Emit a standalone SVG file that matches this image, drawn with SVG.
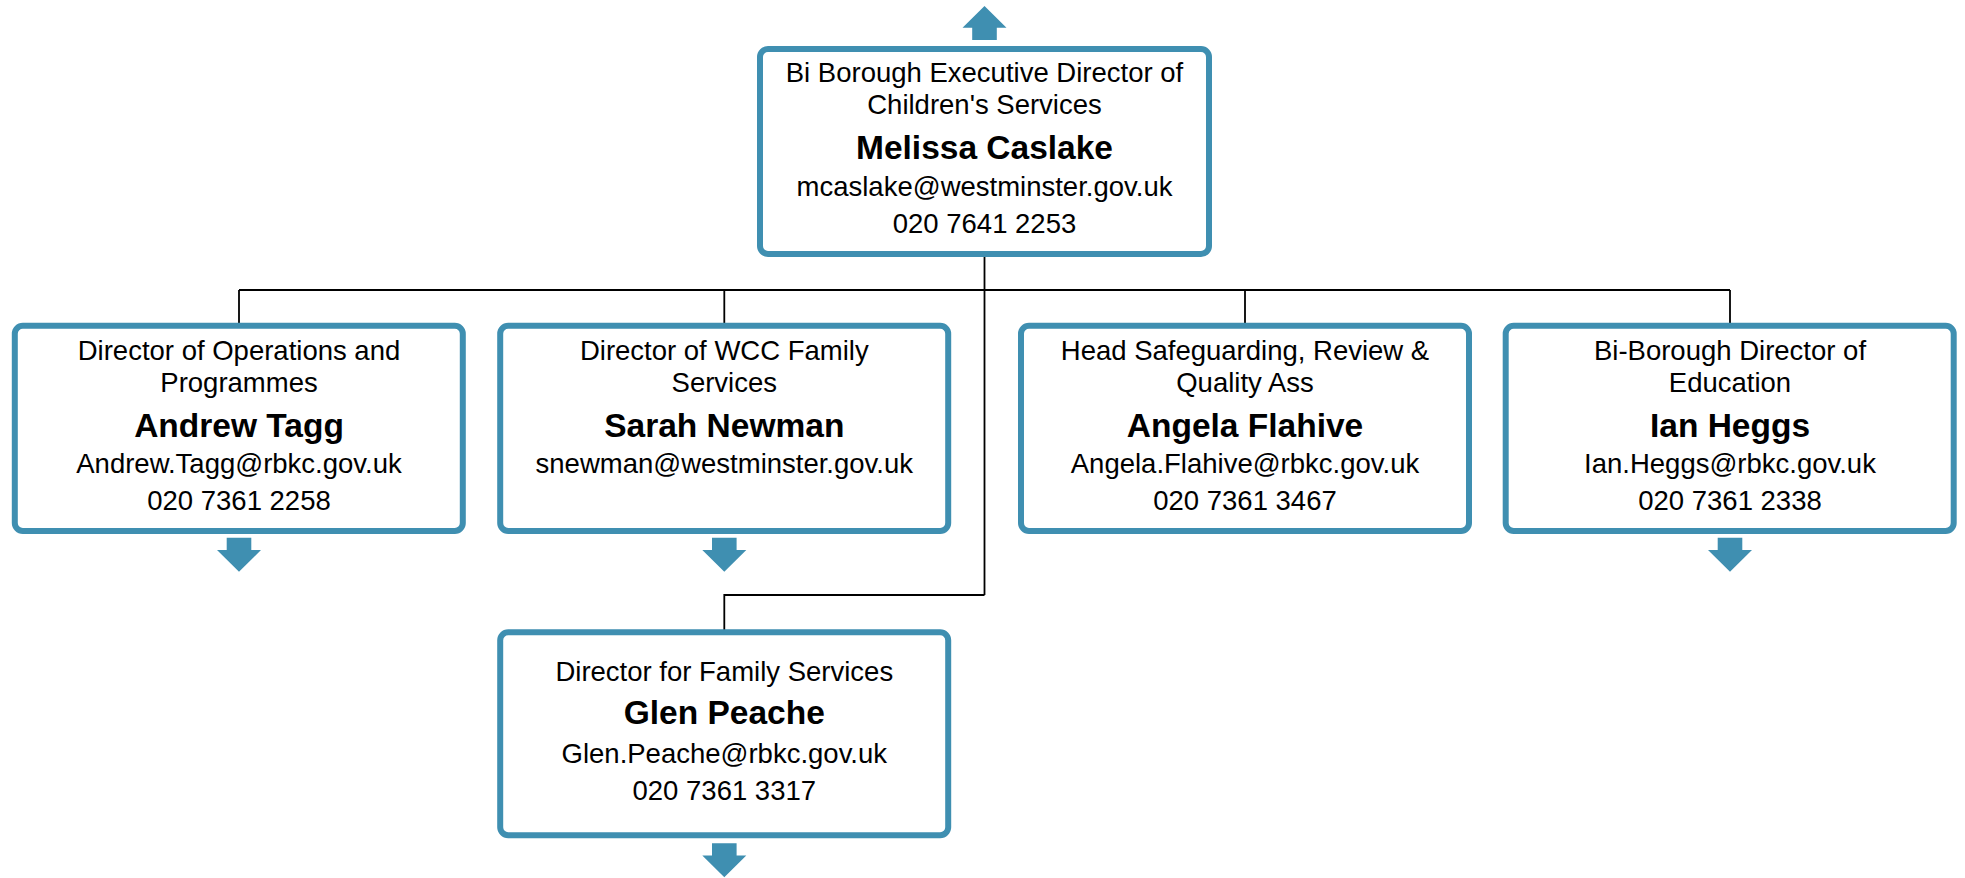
<svg xmlns="http://www.w3.org/2000/svg" xmlns:xlink="http://www.w3.org/1999/xlink" width="1965" height="878" viewBox="0 0 1965 878">
<style>
.box{fill:#fff;stroke:#3F8FB1;stroke-width:6}
.t{font-family:"Liberation Sans",Arial,sans-serif;font-size:27.5px;fill:#000;text-anchor:middle}
.n{font-family:"Liberation Sans",Arial,sans-serif;font-size:33.5px;font-weight:bold;fill:#000;text-anchor:middle}
.c{fill:none;stroke:#000;stroke-width:1.8}
.arr{fill:#3F8FB1}
</style>
<defs>
<path id="down" class="arr" d="M-12.3,0 H12.3 V12.3 H22 L0,34 L-22,12.3 H-12.3 Z"/>
</defs>
<rect width="1965" height="878" fill="#fff"/>
<g id="connectors">
<path class="c" d="M984.5,257 V595 M239,290 H1730 M239,290 V323 M724.3,290 V323 M1245,290 V323 M1730,290 V323 M984.5,595 H724.3 V630"/>
</g>
<g id="arrows">
<use xlink:href="#down" transform="translate(984.5,40) scale(1,-1)"/>
<use xlink:href="#down" transform="translate(239,537.7)"/>
<use xlink:href="#down" transform="translate(724.3,537.7)"/>
<use xlink:href="#down" transform="translate(1730,537.7)"/>
<use xlink:href="#down" transform="translate(724.3,843.3)"/>
</g>
<g id="melissa">
<rect class="box" x="760" y="49" width="449" height="205" rx="8"/>
<text class="t" x="984.5" y="82">Bi Borough Executive Director of</text>
<text class="t" x="984.5" y="114.3">Children's Services</text>
<text class="n" x="984.5" y="159.3">Melissa Caslake</text>
<text class="t" x="984.5" y="196">mcaslake@westminster.gov.uk</text>
<text class="t" x="984.5" y="233.3">020 7641 2253</text>
</g>
<g id="andrew">
<rect class="box" x="14.8" y="325.7" width="448" height="205.3" rx="8"/>
<text class="t" x="239" y="360">Director of Operations and</text>
<text class="t" x="239" y="391.7">Programmes</text>
<text class="n" x="239" y="436.7">Andrew Tagg</text>
<text class="t" x="239" y="473.3">Andrew.Tagg@rbkc.gov.uk</text>
<text class="t" x="239" y="510">020 7361 2258</text>
</g>
<g id="sarah">
<rect class="box" x="500.2" y="325.7" width="448" height="205.3" rx="8"/>
<text class="t" x="724.3" y="360">Director of WCC Family</text>
<text class="t" x="724.3" y="391.7">Services</text>
<text class="n" x="724.3" y="436.7">Sarah Newman</text>
<text class="t" x="724.3" y="473.3">snewman@westminster.gov.uk</text>
</g>
<g id="angela">
<rect class="box" x="1021" y="325.7" width="448" height="205.3" rx="8"/>
<text class="t" x="1245" y="360">Head Safeguarding, Review &amp;</text>
<text class="t" x="1245" y="391.7">Quality Ass</text>
<text class="n" x="1245" y="436.7">Angela Flahive</text>
<text class="t" x="1245" y="473.3">Angela.Flahive@rbkc.gov.uk</text>
<text class="t" x="1245" y="510">020 7361 3467</text>
</g>
<g id="ian">
<rect class="box" x="1505.7" y="325.7" width="448" height="205.3" rx="8"/>
<text class="t" x="1730" y="360">Bi-Borough Director of</text>
<text class="t" x="1730" y="391.7">Education</text>
<text class="n" x="1730" y="436.7">Ian Heggs</text>
<text class="t" x="1730" y="473.3">Ian.Heggs@rbkc.gov.uk</text>
<text class="t" x="1730" y="510">020 7361 2338</text>
</g>
<g id="glen">
<rect class="box" x="500.2" y="632.3" width="448" height="203" rx="8"/>
<text class="t" x="724.3" y="681">Director for Family Services</text>
<text class="n" x="724.3" y="724">Glen Peache</text>
<text class="t" x="724.3" y="762.7">Glen.Peache@rbkc.gov.uk</text>
<text class="t" x="724.3" y="800">020 7361 3317</text>
</g>
</svg>
